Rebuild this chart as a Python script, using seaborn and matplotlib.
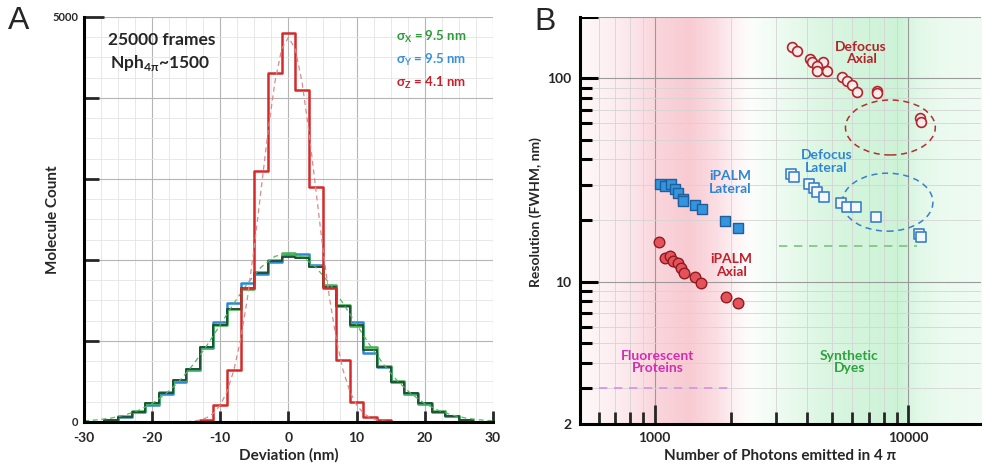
import numpy as np
import pandas as pd
import seaborn as sns
import matplotlib.pyplot as plt
from matplotlib.patches import Ellipse
from matplotlib.ticker import FixedLocator, FixedFormatter, NullFormatter

# ---- panel A : localisation deviation histograms (2 nm bins) ----
dev_centers = [-30, -28, -26, -24, -22, -20, -18, -16, -14, -12, -10, -8, -6, -4, -2, 0,
               2, 4, 6, 8, 10, 12, 14, 16, 18, 20, 22, 24, 26, 28, 30]
count_x = [0, 5, 25, 70, 135, 240, 365, 520, 655, 925, 1200, 1390, 1640, 1850, 2000, 2085,
           2040, 1930, 1690, 1445, 1180, 925, 690, 500, 360, 235, 130, 75, 25, 5, 0]
count_y = [0, 5, 20, 60, 120, 215, 340, 490, 640, 915, 1230, 1466, 1721, 1830, 1975, 2060,
           2075, 1940, 1680, 1435, 1230, 850, 675, 490, 350, 225, 125, 70, 22, 5, 0]
count_dark = [0, 5, 25, 65, 128, 230, 354, 519, 650, 922, 1198, 1391, 1651, 1844, 1992, 2042,
              2030, 1918, 1671, 1432, 1198, 889, 683, 498, 354, 230, 128, 74, 25, 5, 0]
z_centers = [-14, -12, -10, -8, -6, -4, -2, 0, 2, 4, 6, 8, 10, 12, 14, 16]
count_z = [0, 25, 210, 642, 1654, 3099, 4309, 4800, 4099, 2901, 1654, 765, 247, 62, 20, 0]

fit_xy_pos = list(range(-30, 31, 2))
fit_xy = [14, 27, 49, 86, 143, 228, 347, 506, 706, 941, 1201, 1466, 1712, 1913, 2044, 2090,
          2044, 1913, 1712, 1466, 1201, 941, 706, 506, 347, 228, 143, 86, 49, 27, 14]
fit_z_pos = list(range(-15, 16))
fit_z = [4, 10, 24, 53, 108, 209, 378, 643, 1027, 1542, 2175, 2881, 3585, 4192, 4604, 4750,
         4604, 4192, 3585, 2881, 2175, 1542, 1027, 643, 378, 209, 108, 53, 24, 10, 4]

# ---- panel B : resolution vs photon number ----
ipalm_ax_photons = [1037, 1095, 1146, 1177, 1232, 1266, 1301, 1437, 1518, 1903, 2122]
ipalm_ax_res = [15.6, 13.1, 13.4, 12.6, 12.3, 11.7, 11.1, 10.5, 9.9, 8.4, 7.9]
ipalm_lat_photons = [1046, 1095, 1156, 1199, 1232, 1289, 1289, 1437, 1532, 1887, 2122]
ipalm_lat_res = [30.1, 29.4, 30.1, 28.7, 27.4, 25.6, 24.8, 23.9, 22.9, 19.8, 18.4]
defocus_ax_photons = [3490, 3660, 4110, 4190, 4625, 4385, 4385, 4800, 5495, 5755, 6025, 6295,
                      7550, 7550, 11150, 11250]
defocus_ax_res = [142, 136, 125, 120, 120, 115, 109, 108, 102, 97, 93, 86, 87, 85, 64, 61]
defocus_lat_photons = [3460, 3555, 4080, 4265, 4380, 4670, 5450, 5750, 6240, 7480, 11050, 11250]
defocus_lat_res = [33.7, 32.9, 30.1, 29.0, 27.7, 26.2, 24.5, 23.4, 23.4, 20.7, 17.1, 16.6]
fp_limit_photons = [600, 2000]
fp_limit_res = [3, 3]
dye_limit_photons = [3100, 10800]
dye_limit_res = [15, 15]

sns.set_style('white', {'xtick.bottom': True, 'ytick.left': True})
plt.rcParams['font.family'] = ['Lato', 'DejaVu Sans']
plt.rcParams['font.weight'] = 'bold'

fig = plt.figure(figsize=(9.82, 4.68), dpi=100)
axA = fig.add_axes([0.0855, 0.0983, 0.4165, 0.8654])

# grid first
for gx in np.arange(-30, 30.1, 2.5):
    major = gx % 10 == 0
    axA.axvline(gx, color='#b5b5b5' if major else '#e4e4e4', lw=0.8 if major else 0.6, zorder=0)
for gy in np.arange(0, 5001, 250):
    major = gy % 1000 == 0
    axA.axhline(gy, color='#b5b5b5' if major else '#e4e4e4', lw=0.8 if major else 0.6, zorder=0)

hist_df = pd.DataFrame({'dev': dev_centers, 'x': count_x, 'y': count_y, 'dark': count_dark})
z_df = pd.DataFrame({'dev': z_centers, 'z': count_z})
hist_style = dict(x='dev', binwidth=2, binrange=(-31, 31), element='step', fill=False, ax=axA)
sns.histplot(data=hist_df, weights='y', color='#2d86d6', lw=1.8, **hist_style)
sns.histplot(data=hist_df, weights='x', color='#3fb24a', lw=1.8, **hist_style)
sns.histplot(data=hist_df, weights='dark', color='#1f4a33', lw=1.3, **hist_style)
sns.lineplot(x=fit_xy_pos, y=fit_xy, color='#55b565', lw=0.9, ax=axA, linestyle=(0, (4, 3)))
sns.histplot(data=z_df, weights='z', color='#d42a2a', lw=1.8, **hist_style)
sns.lineplot(x=fit_z_pos, y=fit_z, color='#d98a8a', lw=0.9, ax=axA, linestyle=(0, (4, 3)))

axA.set_xlim(-30, 30)
axA.set_ylim(0, 5000)
for s in ['top', 'right']:
    axA.spines[s].set_visible(False)
for s in ['left', 'bottom']:
    axA.spines[s].set_linewidth(2.2)
    axA.spines[s].set_color('black')
    axA.spines[s].set_zorder(5)
axA.set_xticks(range(-30, 31, 10))
axA.set_xticklabels([str(v) for v in range(-30, 31, 10)], fontsize=10, fontweight='bold')
axA.set_xticks([0, 30], minor=True)
axA.set_yticks([0, 5000])
axA.set_yticklabels(['0', '5000'], fontsize=8, fontweight='bold')
axA.set_yticks([1000, 2000, 3000, 4000], minor=True)
axA.yaxis.set_minor_formatter(NullFormatter())
axA.xaxis.set_minor_formatter(NullFormatter())
axA.tick_params(axis='x', which='major', direction='in', length=8, width=2, pad=7, bottom=True)
axA.tick_params(axis='x', which='minor', direction='in', length=14.5, width=2, bottom=True)
axA.tick_params(axis='y', which='major', direction='in', length=14.5, width=2, pad=4, left=True)
axA.tick_params(axis='y', which='minor', direction='in', length=11, width=2, left=True)
axA.set_xlabel('Deviation (nm)', fontsize=11, fontweight='bold', labelpad=3)
axA.set_ylabel('Molecule Count', fontsize=11, fontweight='bold')
axA.yaxis.set_label_coords(-0.058, 0.5)

axA.text(0.059, 0.943, '25000 frames', transform=axA.transAxes, fontsize=12.5,
         fontweight='bold', va='center', ha='left')
axA.text(0.064, 0.886, r'Nph$_\mathregular{4\pi}$~1500', transform=axA.transAxes, fontsize=12.5,
         fontweight='bold', va='center', ha='left')
for yy, lab, val, col in [(0.951, 'X', '9.5', '#2e9a3a'), (0.894, 'Y', '9.5', '#3a8fd6'),
                          (0.837, 'Z', '4.1', '#c8202a')]:
    axA.text(0.762, yy, r'σ$_\mathregular{%s}$ = %s nm' % (lab, val), transform=axA.transAxes,
             fontsize=9.5, fontweight='bold', color=col, va='center', ha='left')

# ---- panel B ----
rectB = [0.5906, 0.094, 0.4084, 0.8697]
bg = fig.add_axes(rectB, zorder=0)
f = np.linspace(0, 1, 500)
pink_a = np.interp(f, [0, 0.1, 0.19, 0.27, 0.34, 0.39, 0.43, 1],
                   [0.12, 0.35, 0.75, 0.95, 0.6, 0.2, 0, 0])
green_a = np.interp(f, [0, 0.41, 0.5, 0.6, 0.7, 0.8, 0.84, 0.9, 1],
                    [0, 0, 0.35, 0.7, 0.9, 1.0, 0.6, 0.4, 0.3])
pink = np.array([248, 200, 208]) / 255
green = np.array([205, 243, 215]) / 255
grad = 1 - pink_a[:, None] * (1 - pink) - green_a[:, None] * (1 - green)
bg.imshow(grad[None, :, :], aspect='auto', extent=(0, 1, 0, 1))
bg.axis('off')

axB = fig.add_axes(rectB, zorder=1)
axB.set_facecolor('none')
axB.set_xscale('log')
axB.set_yscale('log')

sns.lineplot(x=fp_limit_photons, y=fp_limit_res, color='#d890e0', lw=1.2,
             linestyle=(0, (5, 4)), ax=axB)
sns.lineplot(x=dye_limit_photons, y=dye_limit_res, color='#7cc47c', lw=1.2,
             linestyle=(0, (5, 4)), ax=axB)

sns.scatterplot(x=defocus_ax_photons, y=defocus_ax_res, marker='o', s=50,
                facecolor='#fbeaea', edgecolor='#b3242a', linewidth=1.2, ax=axB, zorder=3)
sns.scatterplot(x=defocus_lat_photons, y=defocus_lat_res, marker='s', s=42,
                facecolor='#f4f8fc', edgecolor='#3a7fc8', linewidth=1.2, ax=axB, zorder=3)
sns.scatterplot(x=ipalm_lat_photons, y=ipalm_lat_res, marker='s', s=42,
                facecolor='#3494dc', edgecolor='#1f5f9e', linewidth=1.0, ax=axB, zorder=3)
sns.scatterplot(x=ipalm_ax_photons, y=ipalm_ax_res, marker='o', s=58,
                facecolor='#e5535a', edgecolor='#8e1a20', linewidth=1.0, ax=axB, zorder=3)

axB.set_xlim(507, 19400)
axB.set_ylim(2, 200)
y_major = [10, 100, 200]
y_minor = list(range(3, 10)) + list(range(20, 100, 10))
axB.xaxis.set_major_locator(FixedLocator([1000, 10000]))
axB.xaxis.set_major_formatter(FixedFormatter(['1000', '10000']))
axB.xaxis.set_minor_locator(FixedLocator([600, 700, 800, 900] + list(range(2000, 10000, 1000))))
axB.xaxis.set_minor_formatter(NullFormatter())
axB.yaxis.set_major_locator(FixedLocator([2] + y_major))
axB.yaxis.set_major_formatter(FixedFormatter(['2', '10', '100', '']))
axB.yaxis.set_minor_locator(FixedLocator(y_minor))
axB.yaxis.set_minor_formatter(NullFormatter())
axB.grid(which='major', color='#9a9a9a', lw=0.8)
axB.grid(which='minor', color='#d4d4d4', lw=0.6)
axB.set_axisbelow(True)
axB.tick_params(axis='x', which='major', direction='in', length=14, width=2,
                labelsize=10, pad=6, bottom=True)
axB.tick_params(axis='x', which='minor', direction='in', length=8.5, width=2, bottom=True)
axB.tick_params(axis='y', which='both', length=0, labelsize=10, pad=6)
# y tick marks on the left spine
for yv in y_major:
    axB.axhline(yv, xmin=0, xmax=0.045, color='black', lw=2.2, zorder=6,
                solid_capstyle='butt')
for yv in y_minor:
    axB.axhline(yv, xmin=0, xmax=0.03, color='black', lw=2.2, zorder=6,
                solid_capstyle='butt')
for lbl in axB.get_xticklabels() + axB.get_yticklabels():
    lbl.set_fontweight('bold')
for s in ['top', 'right']:
    axB.spines[s].set_visible(False)
for s in ['left', 'bottom']:
    axB.spines[s].set_linewidth(2.2)
    axB.spines[s].set_color('black')

axB.add_patch(Ellipse((0.774, 0.7285), 0.224, 0.135, transform=axB.transAxes, fill=False,
                      edgecolor='#b03030', lw=1.1, linestyle=(0, (4, 3))))
axB.add_patch(Ellipse((0.767, 0.545), 0.226, 0.1425, transform=axB.transAxes, fill=False,
                      edgecolor='#3a7fc8', lw=1.1, linestyle=(0, (4, 3))))

label_kw = dict(fontsize=10, fontweight='bold', ha='center', va='center', linespacing=1.05)
axB.text(6530, 133, 'Defocus\nAxial', color='#b3242a', **label_kw)
axB.text(4755, 39, 'Defocus\nLateral', color='#2f86d0', **label_kw)
axB.text(1991, 30.7, 'iPALM\nLateral', color='#2f86d0', **label_kw)
axB.text(2010, 12.0, 'iPALM\nAxial', color='#c0202a', **label_kw)
axB.text(1027, 4.04, 'Fluorescent\nProteins', color='#d030b0', **label_kw)
axB.text(5860, 4.04, 'Synthetic\nDyes', color='#30a040', **label_kw)

axB.set_xlabel('Number of Photons emitted in 4 π', fontsize=11, fontweight='bold', labelpad=3)
axB.set_ylabel('Resolution (FWHM, nm)', fontsize=10, fontweight='bold')
axB.yaxis.set_label_coords(-0.095, 0.52)

fig.text(0.019, 0.955, 'A', fontsize=23, fontweight='normal', family='Liberation Sans',
         ha='center', va='center')
fig.text(0.555, 0.953, 'B', fontsize=23, fontweight='normal', family='Liberation Sans',
         ha='center', va='center')

fig.savefig('out.png', dpi=100)
